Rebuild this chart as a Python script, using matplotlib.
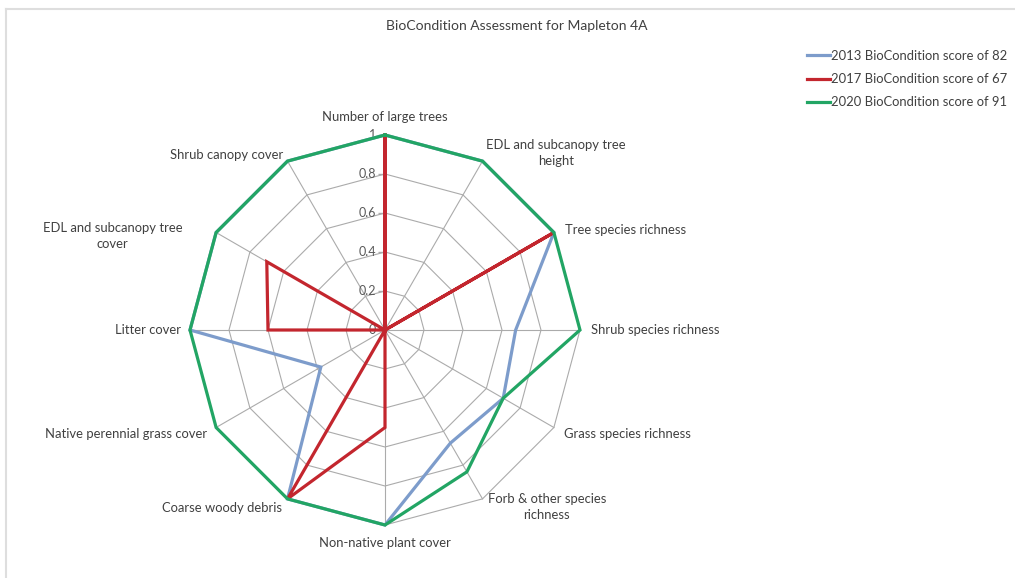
import numpy as np
import matplotlib
matplotlib.use('Agg')
import matplotlib.pyplot as plt
from matplotlib.transforms import offset_copy
from matplotlib.lines import Line2D

plt.rcParams['font.family'] = ['Lato', 'DejaVu Sans']

categories = ['Number of large trees', 'EDL and subcanopy tree\nheight',
              'Tree species richness', 'Shrub species richness',
              'Grass species richness', 'Forb & other species\nrichness',
              'Non-native plant cover', 'Coarse woody debris',
              'Native perennial grass cover', 'Litter cover',
              'EDL and subcanopy tree\ncover', 'Shrub canopy cover']
s2013 = [1, 1, 1, 0.67, 0.7, 0.67, 1, 1, 0.38, 1, 1, 1]
s2017 = [1, 0, 1, 0, 0, 0, 0.5, 1, 0, 0.6, 0.7, 0]
s2020 = [1, 1, 1, 1, 0.7, 0.84, 1, 1, 1, 1, 1, 1]
series_names = ['2013 BioCondition score of 82',
                '2017 BioCondition score of 67',
                '2020 BioCondition score of 91']
ring_levels = [0, 0.2, 0.4, 0.6, 0.8, 1]
ring_labels = ['0', '0.2', '0.4', '0.6', '0.8', '1']

colors = ['#7d9ccb', '#c3262e', '#22a564']
grid_c = '#ababab'
text_c = '#404040'

# label placement (pixel offsets from the outer vertex, alignment)
label_pos = [(0, 18, 'center'), (4, 8, 'left'), (11, 3, 'left'), (11, 0, 'left'),
             (10, -6, 'left'), (5, -8, 'left'), (0, -18, 'center'), (-6, -9, 'right'),
             (-9, -6, 'right'), (-9, 0, 'right'), (-34, -3, 'right'), (-4, 6, 'right')]

W, H = 1015, 578
fig = plt.figure(figsize=(W / 100, H / 100), dpi=100)
cx, cy, R = 385, 330, 195
ax = fig.add_axes([(cx - R) / W, 1 - (cy + R) / H, 2 * R / W, 2 * R / H],
                  projection='polar')
ax.set_theta_zero_location('N')
ax.set_theta_direction(-1)
ax.set_ylim(0, 1)
ax.set_xticks([])
ax.set_yticks([])
ax.grid(False)
ax.spines['polar'].set_visible(False)
ax.patch.set_visible(False)

n = len(categories)
theta = np.arange(n) * 2 * np.pi / n
closed = np.append(theta, theta[0])

# polygon grid rings and spokes
for r in ring_levels[1:]:
    ax.plot(closed, [r] * (n + 1), color=grid_c, lw=0.8, clip_on=False, zorder=1)
for t in theta:
    ax.plot([t, t], [0, 1], color=grid_c, lw=0.8, clip_on=False, zorder=1)

# value axis ticks and labels
ax.plot([0] * len(ring_levels), ring_levels, linestyle='none', marker=0,
        markersize=5, color=grid_c, clip_on=False, zorder=1)
for r, lab in zip(ring_levels, ring_labels):
    tr = offset_copy(ax.transData, fig=fig, x=-9, y=0, units='dots')
    ax.text(0, r, lab, transform=tr, ha='right', va='center',
            fontsize=9, color='#595959')

# series
for vals, name, c in zip([s2013, s2017, s2020], series_names, colors):
    v = np.append(vals, vals[0])
    ax.plot(closed, v, color=c, lw=2.3, label=name, clip_on=False, zorder=3,
            solid_joinstyle='miter')

# category labels
for t, lab, (dx, dy, ha) in zip(theta, categories, label_pos):
    tr = offset_copy(ax.transData, fig=fig, x=dx, y=dy, units='dots')
    ax.text(t, 1, lab, transform=tr, ha=ha, va='center', multialignment='center',
            fontsize=9.4, color=text_c, linespacing=1.4)

fig.text(517 / W, 1 - 26 / H, 'BioCondition Assessment for Mapleton 4A',
         ha='center', va='center', fontsize=10, color=text_c)

fig.legend(loc='upper left', bbox_to_anchor=(807 / W, 1 - 50 / H), frameon=False,
           fontsize=9.4, handlelength=1.75, handletextpad=0.1, labelspacing=0.85,
           borderpad=0, borderaxespad=0, labelcolor=text_c)

# faint frame on the top and left
fig.add_artist(Line2D([6 / W, 1], [1 - 9 / H, 1 - 9 / H], transform=fig.transFigure,
                      color='#dedede', lw=1.5))
fig.add_artist(Line2D([6 / W, 6 / W], [0, 1 - 9 / H], transform=fig.transFigure,
                      color='#dedede', lw=1.5))

fig.savefig('out.png', dpi=100, facecolor='white')
